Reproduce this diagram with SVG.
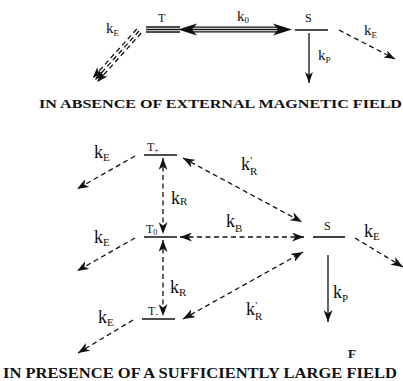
<svg xmlns="http://www.w3.org/2000/svg" width="403" height="381" viewBox="0 0 403 381">
<style>
.lvl{stroke:#111;stroke-width:1.6;fill:none}
.sol{stroke:#111;stroke-width:1.3;fill:none}
.dash{stroke:#111;stroke-width:1.3;fill:none;stroke-dasharray:5 3.5}
.k{font-family:"Liberation Serif","Times New Roman",serif;fill:#111}
.kt{font-size:15px}
.kb{font-size:18px}
.st{font-size:9px}
.sb{font-size:11px}
.lab{font-family:"Liberation Serif","Times New Roman",serif;font-size:12px;fill:#111}
.title{font-family:"Liberation Serif","Times New Roman",serif;font-weight:bold;fill:#111}
</style>
<defs>
<marker id="ah" markerUnits="userSpaceOnUse" viewBox="0 0 12 9" refX="12" refY="4.5" markerWidth="12" markerHeight="9" orient="auto-start-reverse"><path d="M0,0 L12,4.5 L0,9 L3.5,4.5 Z" fill="#111"/></marker>
<marker id="ahs" markerUnits="userSpaceOnUse" viewBox="0 0 11 8" refX="11" refY="4" markerWidth="11" markerHeight="8" orient="auto"><path d="M0,0 L11,4 L0,8 L3,4 Z" fill="#111"/></marker>
</defs>

<!-- Top section nodes -->
<g id="T_top">
<line class="sol" x1="146" y1="27" x2="180" y2="27"/>
<line class="sol" x1="146" y1="29.5" x2="180" y2="29.5"/>
<line class="sol" x1="146" y1="32" x2="180" y2="32"/>
<text class="lab" x="158" y="22">T</text>
</g>
<g id="S_top">
<line class="lvl" x1="295" y1="30" x2="328" y2="30"/>
<text class="lab" x="305" y="22">S</text>
</g>

<!-- Bottom section nodes -->
<g id="T_plus">
<line class="lvl" x1="144" y1="155" x2="177" y2="155"/>
<text class="lab" x="147" y="151">T<tspan font-size="8" dy="2">+</tspan></text>
</g>
<g id="T_zero">
<line class="lvl" x1="144" y1="237" x2="177" y2="237"/>
<text class="lab" x="146" y="233">T<tspan font-size="8" dy="2">0</tspan></text>
</g>
<g id="T_minus">
<line class="lvl" x1="142" y1="319" x2="175" y2="319"/>
<text class="lab" x="148" y="315">T<tspan font-size="8" dy="2">-</tspan></text>
</g>
<g id="S_bot">
<line class="lvl" x1="313" y1="237" x2="345" y2="237"/>
<text class="lab" x="324" y="230">S</text>
</g>

<g id="connectors">
<!-- top: T <-> S thick -->
<line class="sol" x1="190" y1="27.2" x2="280" y2="27.2"/>
<line class="sol" x1="190" y1="29.5" x2="280" y2="29.5"/>
<line class="sol" x1="190" y1="31.8" x2="280" y2="31.8"/>
<path d="M178,29.5 L197,23.5 L192,29.5 L197,35.5 Z" fill="#111"/>
<path d="M292,29.5 L273,23.5 L278,29.5 L273,35.5 Z" fill="#111"/>
<!-- top kP -->
<line class="sol" x1="309" y1="33" x2="309" y2="83" marker-end="url(#ahs)"/>
<!-- top kE right -->
<line class="dash" x1="339" y1="30" x2="395" y2="59" marker-end="url(#ahs)"/>
<!-- top kE left triple -->
<line class="dash" x1="136.8" y1="29" x2="92.8" y2="78" marker-end="url(#ahs)"/>
<line class="dash" x1="139" y1="31" x2="95" y2="80" marker-end="url(#ahs)"/>
<line class="dash" x1="141.2" y1="33" x2="97.2" y2="82" marker-end="url(#ahs)"/>

<!-- bottom kE lefts -->
<line class="dash" x1="135" y1="156" x2="77" y2="189" marker-end="url(#ah)"/>
<line class="dash" x1="135" y1="238" x2="77" y2="271" marker-end="url(#ah)"/>
<line class="dash" x1="133" y1="320" x2="78" y2="353" marker-end="url(#ah)"/>
<!-- kR verticals -->
<line class="dash" x1="163" y1="158" x2="163" y2="234" marker-start="url(#ah)" marker-end="url(#ah)"/>
<line class="dash" x1="163" y1="240" x2="163" y2="316" marker-start="url(#ah)" marker-end="url(#ah)"/>
<!-- kR' top -->
<line class="dash" x1="183" y1="158" x2="302" y2="222" marker-start="url(#ah)" marker-end="url(#ah)"/>
<!-- kB -->
<line class="dash" x1="180" y1="237" x2="304" y2="237" marker-start="url(#ah)" marker-end="url(#ah)"/>
<!-- kR' bottom -->
<line class="dash" x1="183" y1="319" x2="303" y2="252" marker-start="url(#ah)" marker-end="url(#ah)"/>
<!-- kE right of S -->
<line class="dash" x1="355" y1="238" x2="403" y2="267" marker-end="url(#ah)"/>
<!-- kP bottom -->
<line class="sol" x1="328" y1="255" x2="328" y2="322" marker-end="url(#ah)"/>
</g>

<!-- labels -->
<g id="labels">
<text class="k kt" x="106" y="33">k<tspan class="st" dy="3">E</tspan></text>
<text class="k kt" x="237" y="21">k<tspan class="st" dy="2">0</tspan></text>
<text class="k kt" x="318" y="60">k<tspan class="st" dy="3">P</tspan></text>
<text class="k kt" x="364" y="35">k<tspan class="st" dy="3">E</tspan></text>

<text class="k kb" x="94" y="158">k<tspan class="sb" dy="3">E</tspan></text>
<text class="k kb" x="94" y="243">k<tspan class="sb" dy="3">E</tspan></text>
<text class="k kb" x="98" y="323">k<tspan class="sb" dy="3">E</tspan></text>
<text class="k kb" x="171" y="204">k<tspan class="sb" dy="1">R</tspan></text>
<text class="k kb" x="170" y="293">k<tspan class="sb" dy="3">R</tspan></text>
<text class="k kb" x="241" y="170">k<tspan class="sb" dy="5">R</tspan><tspan class="sb" dx="-7" dy="-11">'</tspan></text>
<text class="k kb" x="226" y="227">k<tspan class="sb" dy="5">B</tspan></text>
<text class="k kb" x="364" y="237">k<tspan class="sb" dy="3">E</tspan></text>
<text class="k kb" x="333" y="298">k<tspan class="sb" dy="4">P</tspan></text>
<text class="k kb" x="246" y="315">k<tspan class="sb" dy="5">R</tspan><tspan class="sb" dx="-7" dy="-11">'</tspan></text>
</g>

<text class="title" x="39" y="108" font-size="13" textLength="363" lengthAdjust="spacingAndGlyphs">IN ABSENCE OF EXTERNAL MAGNETIC FIELD</text>
<text class="title" x="348" y="358" font-size="13">F</text>
<text class="title" x="3" y="378" font-size="14" textLength="394" lengthAdjust="spacingAndGlyphs">IN PRESENCE OF A SUFFICIENTLY LARGE FIELD</text>
</svg>
